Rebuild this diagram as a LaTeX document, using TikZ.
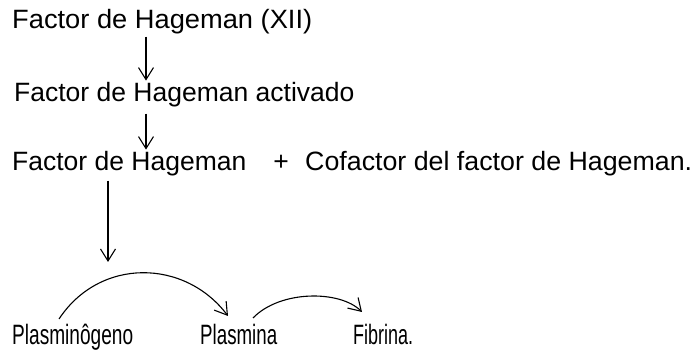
\documentclass[tikz,border=0pt]{standalone}
\usepackage{fontspec}
\usepackage{graphicx}
\setmainfont{Liberation Sans}
\usetikzlibrary{arrows.meta}
% stretch or squeeze a label horizontally to a given width, keeping its height
\newcommand{\fitw}[2]{\resizebox{#1}{\height}{#2}}
\begin{document}
\begin{tikzpicture}[x=1pt,y=1pt,
  lbl/.style={anchor=base west,inner sep=0pt,font=\fontsize{26.5}{30}\selectfont},
  blbl/.style={anchor=base west,inner sep=0pt,font=\fontsize{28}{32}\selectfont},
  arr/.style={line width=1.1pt,-{Straight Barb[length=12pt,width=15pt,line width=1.1pt]}},
]
\useasboundingbox (0,0) rectangle (697,352);
% cascade of factors
\node[lbl] (f1) at (12,323) {\fitw{300pt}{Factor de Hageman (XII)}};
\node[lbl] (f2) at (14,250) {Factor de Hageman activado};
\node[lbl] (f3) at (12,181) {Factor de Hageman};
\node[lbl,anchor=base] (plus) at (281,181) {+};
\node[lbl] (cof) at (305,181) {\fitw{387pt}{Cofactor del factor de Hageman.}};
% bottom row
\node[blbl] (pg) at (12,7.5) {\fitw{121pt}{Plasminôgeno}};
\node[blbl] (pl) at (200,7.5) {\fitw{77pt}{Plasmina}};
\node[blbl] (fb) at (353,7.5) {\fitw{60pt}{Fibrina.}};
% column guides for the vertical arrows
\coordinate (c1) at (146,0);
\coordinate (c3) at (108,0);
\coordinate (arcin) at (108,90);
\draw[arr] (f1.south -| c1) ++(0,-2) -- ([yshift=2pt]f2.north -| c1);
\draw[arr] ([yshift=-6pt]f2.south -| c1) -- ([yshift=2pt]f3.north -| c1);
\draw[arr] ([yshift=-4pt]f3.south -| c3) -- (arcin);
% curved conversion arrows
\coordinate (s1) at (59,33);
\coordinate (e1) at (228,36);
\coordinate (s2) at (253,34);
\coordinate (e2) at (362,40);
\draw[arr] (s1) .. controls (100,95) and (185,93) .. (e1);
\draw[arr] (s2) .. controls (280,62) and (340,62) .. (e2);
\end{tikzpicture}
\end{document}
